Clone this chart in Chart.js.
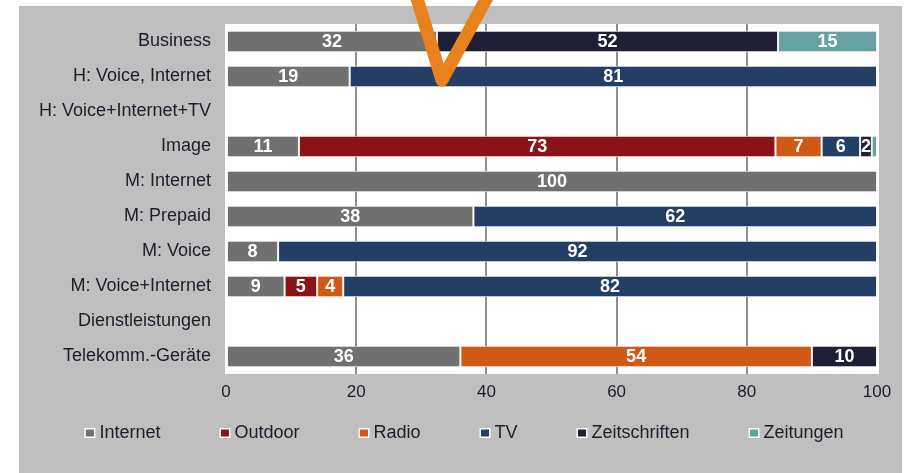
<!DOCTYPE html>
<html>
<head>
<meta charset="utf-8">
<script src="https://cdn.jsdelivr.net/npm/chart.js@4"></script>
<style>
  html, body { margin: 0; padding: 0; background: #fff; }
  #wrap { position: relative; width: 907px; height: 473px; }
</style>
</head>
<body>
<div id="wrap"><canvas id="chart" width="907" height="473"></canvas></div>
<script>
const categories = ['Business', 'H: Voice, Internet', 'H: Voice+Internet+TV', 'Image', 'M: Internet',
  'M: Prepaid', 'M: Voice', 'M: Voice+Internet', 'Dienstleistungen', 'Telekomm.-Geräte'];

const internet      = [32.4, 19, null, 11.2, 100, 38, 8, 9, null, 36];
const outdoor       = [null, null, null, 73.2, null, null, null, 5, null, null];
const radio         = [null, null, null, 7.1, null, null, null, 4, null, 54];
const tv            = [null, 81, null, 5.9, null, 62, 92, 82, null, null];
const zeitschriften = [52.4, null, null, 1.8, null, null, null, null, null, 10];
const zeitungen     = [15.2, null, null, 0.8, null, null, null, null, null, null];

const seriesNames = ['Internet', 'Outdoor', 'Radio', 'TV', 'Zeitschriften', 'Zeitungen'];
const seriesColors = ['#707070', '#8c1219', '#d05a15', '#243f66', '#1f1f36', '#68a1a1'];
const xTicks = [0, 20, 40, 60, 80, 100];

const FONT = "'Liberation Sans', Arial, sans-serif";
Chart.defaults.font.family = FONT;

const seriesData = [internet, outdoor, radio, tv, zeitschriften, zeitungen];

// gray panel + white plot area behind everything
const panelPlugin = {
  id: 'panel',
  beforeDraw(chart) {
    const { ctx, chartArea: a } = chart;
    ctx.save();
    ctx.fillStyle = '#fff';
    ctx.fillRect(0, 0, chart.width, chart.height);
    ctx.fillStyle = '#bfbfbf';
    ctx.fillRect(19, 6, 883, 467);
    ctx.fillStyle = '#fff';
    ctx.fillRect(a.left - 1, a.top, a.right - a.left + 3, a.bottom - a.top);
    ctx.restore();
  }
};

// white value labels in the bar segments
const valueLabels = {
  id: 'valueLabels',
  afterDatasetsDraw(chart) {
    const ctx = chart.ctx;
    ctx.save();
    ctx.font = 'bold 18px ' + FONT;
    ctx.fillStyle = '#fff';
    ctx.textAlign = 'center';
    ctx.textBaseline = 'middle';
    chart.data.datasets.forEach((ds, i) => {
      chart.getDatasetMeta(i).data.forEach((bar, j) => {
        const v = ds.data[j];
        if (v == null) return;
        const txt = String(Math.round(v));
        const w = Math.abs(bar.x - bar.base);
        if (ctx.measureText(txt).width > w) return;
        ctx.fillText(txt, (bar.x + bar.base) / 2, bar.y + 1);
      });
    });
    ctx.restore();
  }
};

// legend row under the axis
const legendRow = {
  id: 'legendRow',
  afterDraw(chart) {
    const ctx = chart.ctx;
    ctx.save();
    ctx.font = '18px ' + FONT;
    ctx.textBaseline = 'middle';
    const gap = 59, box = 10, boxGap = 5, y = 433;
    const items = chart.data.datasets.map(d => ({ label: d.label, color: d.backgroundColor, w: ctx.measureText(d.label).width }));
    const total = items.reduce((s, it) => s + box + boxGap + it.w, 0) + gap * (items.length - 1);
    let x = 464 - total / 2;
    items.forEach(it => {
      ctx.fillStyle = '#fff';
      ctx.fillRect(x, y - 5, box + 1, box);
      ctx.fillStyle = it.color;
      ctx.fillRect(x + 1.5, y - 3.5, box - 2, box - 3);
      ctx.fillStyle = '#1c1c2a';
      ctx.fillText(it.label, x + box + boxGap, y);
      x += box + boxGap + it.w + gap;
    });
    ctx.restore();
  }
};

// orange check mark over the top of the chart
const checkMark = {
  id: 'checkMark',
  afterDraw(chart) {
    const ctx = chart.ctx;
    ctx.save();
    ctx.strokeStyle = '#e8821c';
    ctx.lineWidth = 13;
    ctx.lineJoin = 'round';
    ctx.lineCap = 'round';
    ctx.beginPath();
    ctx.moveTo(415, -8);
    ctx.lineTo(442, 80);
    ctx.lineTo(490, -8);
    ctx.stroke();
    ctx.restore();
  }
};

new Chart(document.getElementById('chart'), {
  type: 'bar',
  data: {
    labels: categories,
    datasets: seriesNames.map((name, i) => ({
      label: name,
      data: seriesData[i],
      backgroundColor: seriesColors[i],
      borderColor: '#f2f2f2',
      borderWidth: 1,
      borderSkipped: false,
      categoryPercentage: 1,
      barPercentage: 0.62
    }))
  },
  options: {
    indexAxis: 'y',
    responsive: false,
    animation: false,
    layout: { padding: { top: 24, right: 30, bottom: 69, left: 0 } },
    plugins: { legend: { display: false }, tooltip: { enabled: false } },
    scales: {
      x: {
        stacked: true,
        min: 0,
        max: 100,
        afterBuildTicks(scale) { scale.ticks = xTicks.map(v => ({ value: v })); },
        afterFit(scale) { scale.height = 30; scale.paddingLeft = 0; scale.paddingRight = 0; },
        border: { display: false },
        grid: {
          drawTicks: false,
          lineWidth: 2,
          color: c => (c.tick && (c.tick.value === 0 || c.tick.value === 100)) ? 'rgba(0,0,0,0)' : '#8e8e8e'
        },
        ticks: { padding: 8, color: '#1c1c2a', font: { size: 17 } }
      },
      y: {
        stacked: true,
        afterFit(scale) { scale.width = 226; scale.paddingTop = 0; scale.paddingBottom = 0; },
        border: { display: false },
        grid: { display: false, drawTicks: false },
        ticks: { padding: 15, color: '#1c1c2a', font: { size: 18 } }
      }
    }
  },
  plugins: [panelPlugin, valueLabels, legendRow, checkMark]
});
</script>
</body>
</html>
